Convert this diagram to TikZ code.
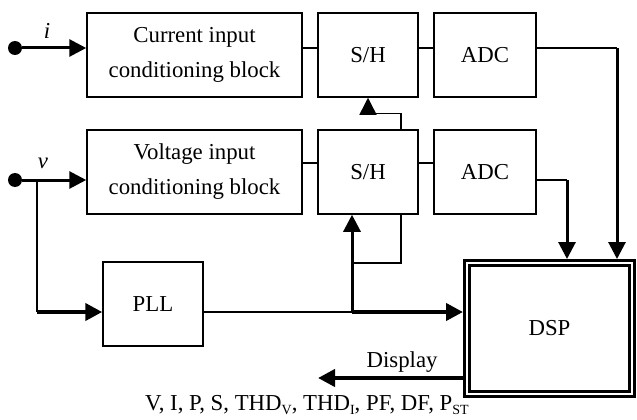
\documentclass[tikz,border=0pt]{standalone}
\usepackage{fontspec}
\setmainfont{Liberation Serif}
\usetikzlibrary{arrows.meta,positioning,calc}
\newcommand{\lowsub}[1]{\raisebox{-0.45ex}{\fontsize{14}{14}\selectfont #1}}

\begin{document}
\begin{tikzpicture}[x=1pt,y=-1pt,font=\fontsize{22.8}{35}\selectfont,>={Triangle[length=17pt,width=17pt]},
box/.style={draw,line width=1.5pt,minimum height=84pt,align=center,inner sep=0pt},
ln/.style={line width=1.5pt},
arr/.style={->,line width=1.5pt},
tharr/.style={->,line width=3pt},
fatarr/.style={->,line width=4pt},
dot/.style={circle,fill,inner sep=0pt,minimum size=14pt}]
\useasboundingbox (0,0) rectangle (637,420);
\node[box,minimum width=215pt] (cur) at (194.5,55) {Current input\\conditioning block};
\node[box,minimum width=100pt,right=14.5pt of cur] (sh1) {S/H};
\node[box,minimum width=102pt,right=14.5pt of sh1] (adc1) {ADC};
\node[box,minimum width=215pt,below=31.5pt of cur] (vol) {Voltage input\\conditioning block};
\node[box,minimum width=100pt,below=31.5pt of sh1] (sh2) {S/H};
\node[box,minimum width=102pt,below=31.5pt of adc1] (adc2) {ADC};
\node[box,minimum width=100pt] (pll) at (153,304) {PLL};
\node[draw,double,double distance=2pt,line width=3pt,minimum width=165pt,minimum height=131pt,outer sep=4pt] (dsp) at (549.5,328.5) {DSP};
\node[dot] (iin) at (15,48) {};
\node[dot] (vin) at (15,180) {};
\node (ilab) at (47,31) {\textit{i}};
\node (vlab) at (43,163) {\textit{v}};
\coordinate (vtap) at (37,180);
\coordinate (vpll) at (37,312);
\coordinate (jn) at (352,312);
\coordinate (fb) at (352,263);
\coordinate (c1) at (617,48);
\coordinate (c2) at (567,180);
\coordinate (dend) at (318,378);
\draw[tharr] (iin) -- (iin -| cur.west);
\draw[tharr] (vin) -- (vin -| vol.west);
\draw[ln] ([yshift=7pt]cur.east) -- ([yshift=7pt]sh1.west);
\draw[ln] ([yshift=7pt]sh1.east) -- ([yshift=7pt]adc1.west);
\draw[ln] ([yshift=9pt]vol.east) -- ([yshift=9pt]sh2.west);
\draw[ln] ([yshift=9pt]sh2.east) -- ([yshift=9pt]adc2.west);
\draw[ln] ([yshift=7pt]adc1.east) -- (c1);
\draw[tharr] (c1) -- (c1 |- dsp.north);
\draw[ln] ([yshift=-8pt]adc2.east) -- (c2);
\draw[tharr] (c2) -- (c2 |- dsp.north);
\draw[arr] ([xshift=33pt]sh2.north) |- ($(sh1.south)!0.5!(sh2.north)$) -- (sh1.south);
\draw[ln] (vtap) -- (vpll);
\draw[fatarr] (vpll) -- (vpll -| pll.west);
\draw[ln] (pll.east |- jn) -- (jn);
\draw[fatarr] (jn) -- (jn -| dsp.west);
\draw[tharr] (jn) -- (jn |- sh2.south);
\draw[ln] ([xshift=33pt]sh2.south) |- (fb);
\draw[fatarr] (dend -| dsp.west) -- (dend) node[pos=0.42,above=0pt] (dlab) {Display};
\node (qty) at (307,405) {V, I, P, S, THD\lowsub{V}, THD\lowsub{I}, PF, DF, P\lowsub{ST}};
\end{tikzpicture}
\end{document}
